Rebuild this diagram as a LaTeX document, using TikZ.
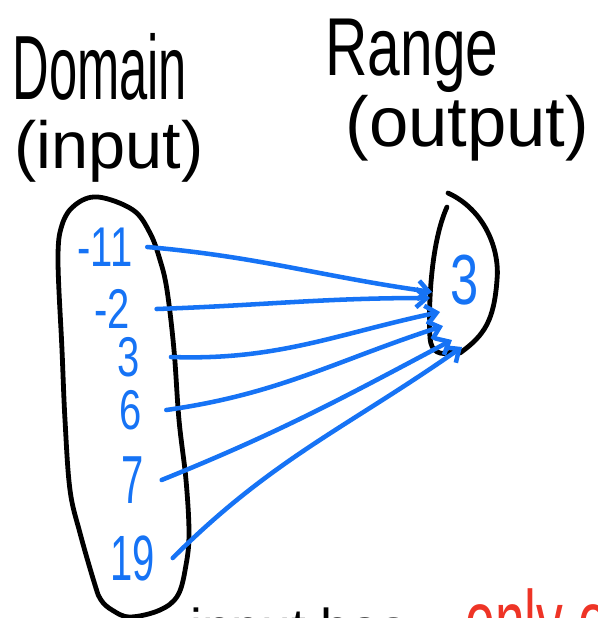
\documentclass[tikz,border=0pt]{standalone}
\usepackage{fontspec}
\setmainfont{Liberation Sans}
\usepackage{graphicx}
\usetikzlibrary{arrows.meta}

\definecolor{penblue}{RGB}{22,115,245}
\definecolor{penred}{RGB}{238,52,38}
\newcommand{\hand}[2]{\scalebox{1}[#1]{#2}}

\tikzset{every picture/.style={line width=0.75pt}}
\tikzset{
  ink/.style={line width=3.6pt, line cap=round, line join=round},
  bluearrow/.style={penblue, line width=3.4pt, line cap=round, -{Straight Barb[length=8pt,width=14pt]}},
  numlabel/.style={penblue, inner sep=0.75pt, font=\fontsize{30}{30}\selectfont},
  headlabel/.style={anchor=base west, inner sep=0pt},
}

\begin{document}
\begin{tikzpicture}[x=0.75pt,y=0.75pt,yscale=-1,xscale=1]
\useasboundingbox (0,0) rectangle (597,618);
\clip (0,0) rectangle (597,618);

% Text Node
\draw (12,99) node (dom) [headlabel, font=\fontsize{38}{38}\selectfont] {\hand{1.8}{Domain}};
% Text Node
\draw (14,168) node (domin) [headlabel, font=\fontsize{50}{50}\selectfont] {(input)};
% Text Node
\draw (325,75) node (ran) [headlabel, font=\fontsize{44}{44}\selectfont] {\hand{1.4}{Range}};
% Text Node
\draw (345,146) node (ranout) [headlabel, font=\fontsize{53}{53}\selectfont] {(output)};

%Shape: domain oval
\draw [ink] plot [smooth cycle, tension=0.6] coordinates {(98,197) (133,210) (150,233) (160,260) (167,290) (174,350) (179,420) (186,480) (189,533) (186,565) (178,595) (160,610) (130,617) (112,610) (101,600) (95,585) (80,533) (70,490) (65,420) (62,350) (58,260) (62,225) (75,205)};
%Shape: range oval
\draw [ink] (448,193) .. controls (485,210) and (500,250) .. (497,280) .. controls (494,320) and (485,335) .. (460,353) ;
\draw [ink] (447,207) .. controls (432,240) and (428,300) .. (430,338) .. controls (431,352) and (440,356) .. (452,352) ;

% Text Node
\draw (105,247) node (n11) [numlabel] {\hand{1.4}{-11}};
% Text Node
\draw (112,309) node (n2) [numlabel] {\hand{1.4}{-2}};
% Text Node
\draw (129,357) node (n3) [numlabel] {\hand{1.4}{3}};
% Text Node
\draw (131,410) node (n6) [numlabel] {\hand{1.4}{6}};
% Text Node
\draw (133,480) node (n7) [numlabel] {\hand{1.7}{7}};
% Text Node
\draw (133,558) node (n19) [numlabel] {\hand{1.6}{19}};
% Text Node
\draw (465,280) node (r3) [numlabel, font=\fontsize{38}{38}\selectfont] {\hand{1.4}{3}};

% arrow ends round the 3
\coordinate (t1) at (432,292);
\coordinate (t2) at (430,298);
\coordinate (t3) at (440,312);
\coordinate (t4) at (443,326);
\coordinate (t5) at (452,340);
\coordinate (t6) at (462,347);

%Straight Lines
\draw [bluearrow] ([xshift=10pt]n11.east) to [out=5, in=188] (t1);
\draw [bluearrow] ([xshift=19pt]n2.east) to [out=-2, in=180] (t2);
\draw [bluearrow] ([xshift=22pt]n3.east) to [out=2, in=168] (t3);
\draw [bluearrow] ([xshift=17pt]n6.east) to [out=-8, in=162] (t4);
\draw [bluearrow] ([xshift=12pt]n7.east) to [out=-22, in=152] (t5);
\draw [bluearrow] ([xshift=12pt]n19.east) to [out=-45, in=145] (t6);

% Text Node
\draw (190,646) node (btm) [headlabel, font=\fontsize{40}{40}\selectfont] {input has};
% Text Node
\draw (465,650) node (btmred) [headlabel, penred, font=\fontsize{40}{40}\selectfont] {\hand{1.6}{only one}};

\end{tikzpicture}
\end{document}
